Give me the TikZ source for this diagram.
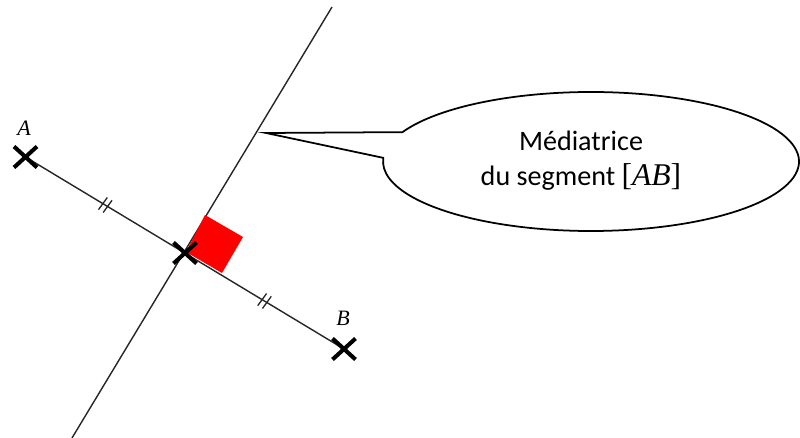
\documentclass[tikz,border=0pt]{standalone}
\usepackage{fontspec}
\setmainfont{Carlito}
\newfontfamily\lserif{Liberation Serif}
\usetikzlibrary{shapes.misc,calc}
\tikzset{
  seg/.style={line width=0.8pt, black!85},
  xmark/.style={cross out, draw=black, line width=2.3pt, minimum width=0.46cm, minimum height=0.42cm, inner sep=0pt, outer sep=0pt},
  ptlabel/.style={font=\lserif\itshape\fontsize{12.5}{14}\selectfont, inner sep=0pt},
  bubble/.style={draw=black, line width=1pt, fill=white, line join=miter},
  bubbletext/.style={font=\fontsize{16}{20}\selectfont, align=center, inner sep=0pt},
  tickline/.style={line width=0.75pt, black!85},
  dbltick/.pic={
    \draw[tickline] (-0.055cm,0) ++(-95:0.15cm) -- ++(85:0.30cm);
    \draw[tickline] (0.055cm,0) ++(-95:0.15cm) -- ++(85:0.30cm);
  }
}
\begin{document}
\begin{tikzpicture}[x=0.02cm, y=-0.02cm]
  \useasboundingbox (0,0) rectangle (800,438);
  % points
  \coordinate (pA) at (25.5,157);
  \coordinate (pM) at (185,253);
  \coordinate (pB) at (344,349);
  \coordinate (d1) at (72,438);
  \coordinate (d2) at (332,7);
  % bisector and segment
  \draw[seg] (d1) -- (d2);
  \draw[seg] (pA) -- (pB);
  % right angle mark
  \fill[red] (186,252) -- (205,215) -- (243,237) -- (222,273) -- cycle;
  % equal-length ticks
  \pic[rotate=-31] at ($(pA)!0.5!(pM)$) {dbltick};
  \pic[rotate=-31] at ($(pM)!0.5!(pB)$) {dbltick};
  % crosses
  \node[xmark] (A) at (pA) {};
  \node[xmark] (M) at (pM) {};
  \node[xmark] (B) at (pB) {};
  \node[ptlabel] (lA) at (24,128) {A};
  \node[ptlabel] (lB) at (343,318) {B};
  % callout bubble
  \coordinate (C) at (591,161.5);
  \coordinate (T) at (266,133);
  \draw[bubble] ([shift={(155:4.16cm and 1.39cm)}]C)
    arc[start angle=155, end angle=-183, x radius=4.16cm, y radius=1.39cm]
    -- (T) -- cycle;
  \node[bubbletext] (txt) at (581,161) {Médiatrice\\du segment {\lserif\fontsize{18}{20}\selectfont[\textit{AB}]}};
\end{tikzpicture}
\end{document}
